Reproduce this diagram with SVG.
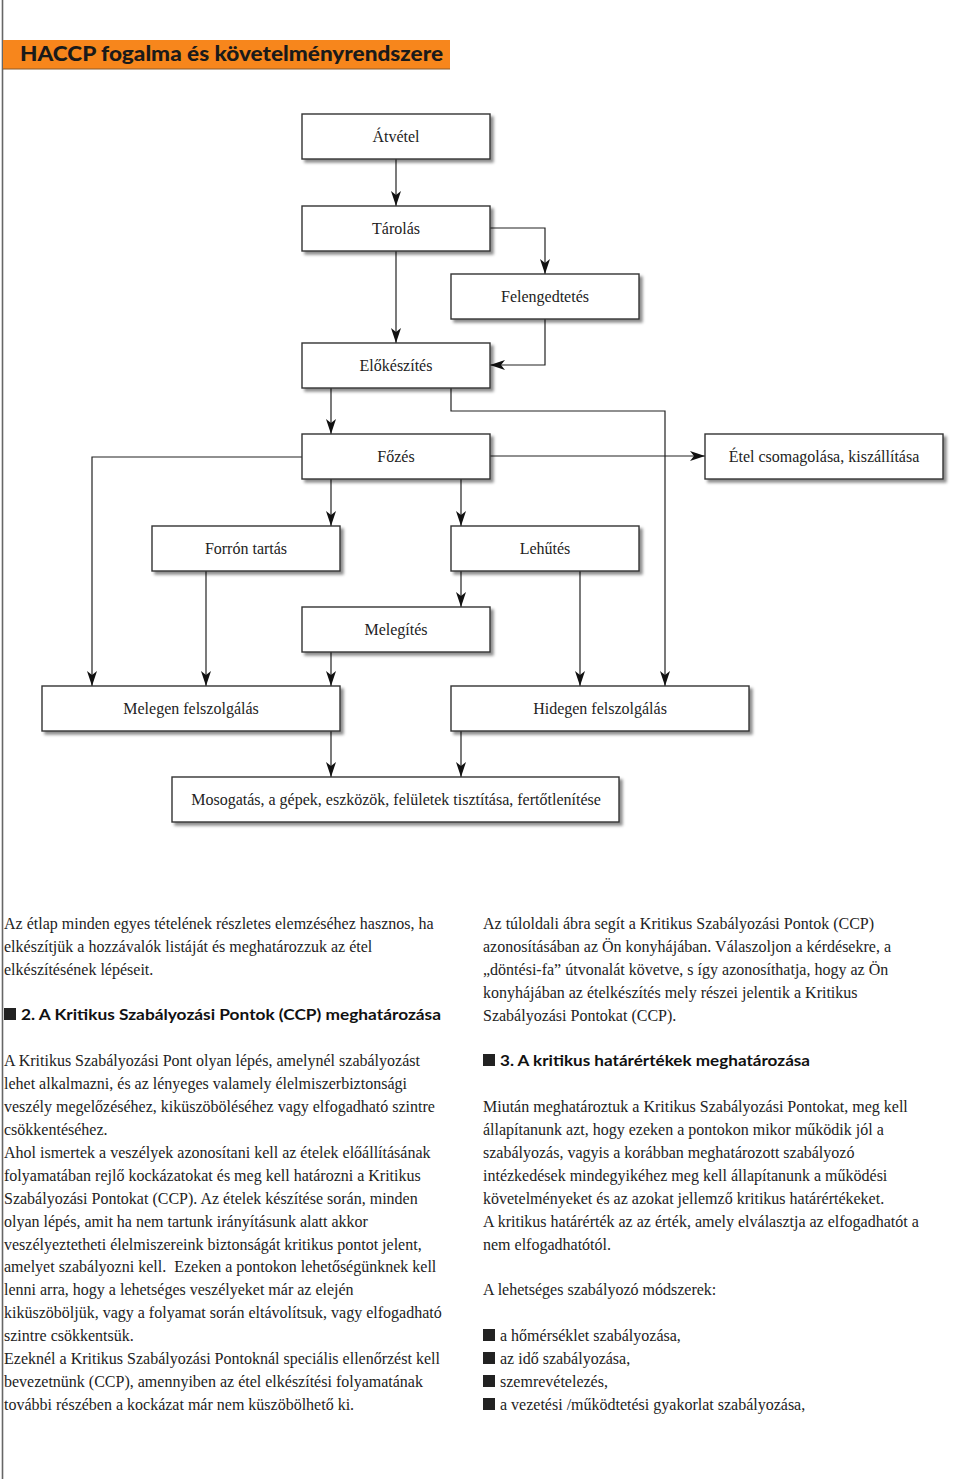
<svg xmlns="http://www.w3.org/2000/svg" width="960" height="1479" viewBox="0 0 960 1479">
<defs>
<filter id="sh" x="-10%" y="-20%" width="130%" height="160%">
<feDropShadow dx="3" dy="3" stdDeviation="1.5" flood-color="#000" flood-opacity="0.45"/>
</filter>
<marker id="ahv" viewBox="0 0 15 10" refX="15" refY="5" markerWidth="15" markerHeight="10" markerUnits="userSpaceOnUse" orient="auto">
<path d="M0,0 L15,5 L0,10 L4,5 Z" fill="#111"/>
</marker>
</defs>
<style>
.box rect{fill:#fff;stroke:#333;stroke-width:1.4;filter:url(#sh)}
.box text{font-family:"Liberation Serif","Times New Roman",serif;font-size:16px;fill:#222;text-anchor:middle}
.conn path{fill:none;stroke:#222;stroke-width:1.2;marker-end:url(#ahv)}
.body{font-family:"Liberation Serif","Times New Roman",serif;font-size:16px;fill:#222}
.head{font-family:"Lato","Liberation Sans",sans-serif;font-weight:bold;font-size:16px;fill:#111}
.bul{fill:#222}
</style>
<rect width="960" height="1479" fill="#fff"/>
<line x1="2.5" y1="0" x2="2.5" y2="1479" stroke="#666" stroke-width="1.6"/>
<g id="title">
<rect x="3" y="40" width="447" height="29" fill="#F7861C"/>
<line x1="3" y1="69" x2="450" y2="69" stroke="#8a5a2a" stroke-width="1"/>
<text x="20" y="61" font-family="Lato,'Liberation Sans',sans-serif" font-weight="900" font-size="20" fill="#1a1a1a" textLength="423" lengthAdjust="spacingAndGlyphs">HACCP fogalma és követelményrendszere</text>
</g>
<g class="conn" id="connectors">
<path d="M396,159 V206"/>
<path d="M396,251 V343"/>
<path d="M490,228 H545 V274"/>
<path d="M545,319 V365 H490"/>
<path d="M331,388 V434"/>
<path d="M451,388 V411 H665 V686"/>
<path d="M490,456 H705"/>
<path d="M302,457 H92 V686"/>
<path d="M331,479 V526"/>
<path d="M461,479 V526"/>
<path d="M461,571 V607"/>
<path d="M580,571 V686"/>
<path d="M206,571 V686"/>
<path d="M331,652 V686"/>
<path d="M331,731 V777"/>
<path d="M461,731 V777"/>
</g>
<g class="box" id="atvetel"><rect x="302" y="114" width="188" height="45"/><text x="396" y="142">Átvétel</text></g>
<g class="box" id="tarolas"><rect x="302" y="206" width="188" height="45"/><text x="396" y="234">Tárolás</text></g>
<g class="box" id="felengedtetes"><rect x="451" y="274" width="188" height="45"/><text x="545" y="302">Felengedtetés</text></g>
<g class="box" id="elokeszites"><rect x="302" y="343" width="188" height="45"/><text x="396" y="371">Előkészítés</text></g>
<g class="box" id="fozes"><rect x="302" y="434" width="188" height="45"/><text x="396" y="462">Főzés</text></g>
<g class="box" id="etel"><rect x="705" y="434" width="238" height="45"/><text x="824" y="462">Étel csomagolása, kiszállítása</text></g>
<g class="box" id="forron"><rect x="152" y="526" width="188" height="45"/><text x="246" y="554">Forrón tartás</text></g>
<g class="box" id="lehutes"><rect x="451" y="526" width="188" height="45"/><text x="545" y="554">Lehűtés</text></g>
<g class="box" id="melegites"><rect x="302" y="607" width="188" height="45"/><text x="396" y="635">Melegítés</text></g>
<g class="box" id="melegen"><rect x="42" y="686" width="298" height="45"/><text x="191" y="714">Melegen felszolgálás</text></g>
<g class="box" id="hidegen"><rect x="451" y="686" width="298" height="45"/><text x="600" y="714">Hidegen felszolgálás</text></g>
<g class="box" id="mosogatas"><rect x="172" y="777" width="447" height="45"/><text x="396" y="805">Mosogatás, a gépek, eszközök, felületek tisztítása, fertőtlenítése</text></g>
<g id="left-text">
<text class="body" x="4" y="929">Az étlap minden egyes tételének részletes elemzéséhez hasznos, ha</text>
<text class="body" x="4" y="952">elkészítjük a hozzávalók listáját és meghatározzuk az étel</text>
<text class="body" x="4" y="975">elkészítésének lépéseit.</text>
<rect class="bul" x="4" y="1008" width="12" height="12"/>
<text class="head" x="21" y="1020" textLength="420" lengthAdjust="spacingAndGlyphs">2. A Kritikus Szabályozási Pontok (CCP) meghatározása</text>
<text class="body" x="4" y="1066">A Kritikus Szabályozási Pont olyan lépés, amelynél szabályozást</text>
<text class="body" x="4" y="1089">lehet alkalmazni, és az lényeges valamely élelmiszerbiztonsági</text>
<text class="body" x="4" y="1112">veszély megelőzéséhez, kiküszöböléséhez vagy elfogadható szintre</text>
<text class="body" x="4" y="1135">csökkentéséhez.</text>
<text class="body" x="4" y="1158">Ahol ismertek a veszélyek azonosítani kell az ételek előállításának</text>
<text class="body" x="4" y="1181">folyamatában rejlő kockázatokat és meg kell határozni a Kritikus</text>
<text class="body" x="4" y="1204">Szabályozási Pontokat (CCP). Az ételek készítése során, minden</text>
<text class="body" x="4" y="1227">olyan lépés, amit ha nem tartunk irányításunk alatt akkor</text>
<text class="body" x="4" y="1250">veszélyeztetheti élelmiszereink biztonságát kritikus pontot jelent,</text>
<text class="body" x="4" y="1272" xml:space="preserve">amelyet szabályozni kell.  Ezeken a pontokon lehetőségünknek kell</text>
<text class="body" x="4" y="1295">lenni arra, hogy a lehetséges veszélyeket már az elején</text>
<text class="body" x="4" y="1318">kiküszöböljük, vagy a folyamat során eltávolítsuk, vagy elfogadható</text>
<text class="body" x="4" y="1341">szintre csökkentsük.</text>
<text class="body" x="4" y="1364">Ezeknél a Kritikus Szabályozási Pontoknál speciális ellenőrzést kell</text>
<text class="body" x="4" y="1387">bevezetnünk (CCP), amennyiben az étel elkészítési folyamatának</text>
<text class="body" x="4" y="1410">további részében a kockázat már nem küszöbölhető ki.</text>
</g>
<g id="right-text">
<text class="body" x="483" y="929">Az túloldali ábra segít a Kritikus Szabályozási Pontok (CCP)</text>
<text class="body" x="483" y="952">azonosításában az Ön konyhájában. Válaszoljon a kérdésekre, a</text>
<text class="body" x="483" y="975">„döntési-fa” útvonalát követve, s így azonosíthatja, hogy az Ön</text>
<text class="body" x="483" y="998">konyhájában az ételkészítés mely részei jelentik a Kritikus</text>
<text class="body" x="483" y="1021">Szabályozási Pontokat (CCP).</text>
<rect class="bul" x="483" y="1054" width="12" height="12"/>
<text class="head" x="500" y="1066" textLength="310" lengthAdjust="spacingAndGlyphs">3. A kritikus határértékek meghatározása</text>
<text class="body" x="483" y="1112">Miután meghatároztuk a Kritikus Szabályozási Pontokat, meg kell</text>
<text class="body" x="483" y="1135">állapítanunk azt, hogy ezeken a pontokon mikor működik jól a</text>
<text class="body" x="483" y="1158">szabályozás, vagyis a korábban meghatározott szabályozó</text>
<text class="body" x="483" y="1181">intézkedések mindegyikéhez meg kell állapítanunk a működési</text>
<text class="body" x="483" y="1204">követelményeket és az azokat jellemző kritikus határértékeket.</text>
<text class="body" x="483" y="1227">A kritikus határérték az az érték, amely elválasztja az elfogadhatót a</text>
<text class="body" x="483" y="1250">nem elfogadhatótól.</text>
<text class="body" x="483" y="1295">A lehetséges szabályozó módszerek:</text>
<rect class="bul" x="483" y="1329" width="12" height="12"/>
<text class="body" x="500" y="1341">a hőmérséklet szabályozása,</text>
<rect class="bul" x="483" y="1352" width="12" height="12"/>
<text class="body" x="500" y="1364">az idő szabályozása,</text>
<rect class="bul" x="483" y="1375" width="12" height="12"/>
<text class="body" x="500" y="1387">szemrevételezés,</text>
<rect class="bul" x="483" y="1398" width="12" height="12"/>
<text class="body" x="500" y="1410">a vezetési /működtetési gyakorlat szabályozása,</text>
</g>
</svg>
